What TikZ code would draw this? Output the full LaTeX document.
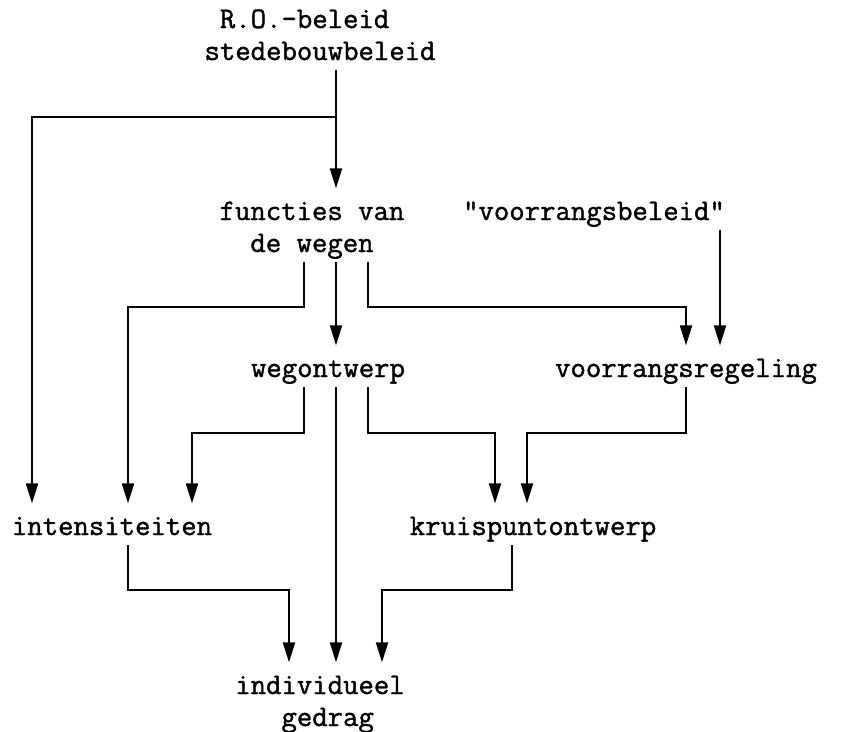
\documentclass[tikz,border=0pt]{standalone}
\usepackage{fontspec}
\newfontfamily\typewr{Latin Modern Mono}[FakeBold=1.3]
\usetikzlibrary{arrows.meta,calc,positioning}

\tikzset{
  box/.style={inner sep=0pt, align=center, font=\typewr\fontsize{29.9}{32}\selectfont},
  flow/.style={line width=1.8pt, -{Triangle[length=20pt,width=12pt]}, shorten >=9pt},
}

\begin{document}
\begin{tikzpicture}[x=1pt,y=-1pt]
  \useasboundingbox (0,0) rectangle (851,731);
  % texts
  \node[box, align=left] (ro) at (320,37.6) {\phantom{x}R.O.-beleid\strut\\stedebouwbeleid\strut};
  \node[box] (func) at (312,229.6) {functies van\strut\\de wegen\strut};
  \node[box] (vbel) at (594,213.6) {"voorrangsbeleid"\strut};
  \node[box] (weg) at (328,370.6) {wegontwerp\strut};
  \node[box] (vreg) at (686,370.6) {voorrangsregeling\strut};
  \node[box] (inten) at (112,528.6) {intensiteiten\strut};
  \node[box] (kruis) at (533,528.6) {kruispuntontwerp\strut};
  \node[box, align=left] (indiv) at (320,703.6) {individueel\strut\\\phantom{xxx}gedrag\strut};
  % connectors
  \draw[flow] ([xshift=16pt]ro.south) -- ([xshift=24pt]func.north);
  \draw[flow] ([xshift=16pt]ro.south) ++(0,47.4) -| ([xshift=-80pt]inten.north);
  \draw[flow] ([xshift=-8pt]func.south) -- ++(0,45) -| ([xshift=16pt]inten.north);
  \draw[flow] ([xshift=24pt]func.south) -- ([xshift=8pt]weg.north);
  \draw[flow] ([xshift=56pt]func.south) -- ++(0,45) -| (vreg.north);
  \draw[flow] ([xshift=126pt]vbel.south) -- ([xshift=34pt]vreg.north);
  \draw[flow] ([xshift=-24pt]weg.south) -- ++(0,46) -| ([xshift=80pt]inten.north);
  \draw[flow] ([xshift=8pt]weg.south) -- ([xshift=16pt]indiv.north);
  \draw[flow] ([xshift=40pt]weg.south) -- ++(0,46) -| ([xshift=-38pt]kruis.north);
  \draw[flow] (vreg.south) -- ++(0,46) -| ([xshift=-6pt]kruis.north);
  \draw[flow] ([xshift=16pt]inten.south) -- ++(0,45) -| ([xshift=-31pt]indiv.north);
  \draw[flow] ([xshift=-21pt]kruis.south) -- ++(0,45) -| ([xshift=62pt]indiv.north);
\end{tikzpicture}
\end{document}
